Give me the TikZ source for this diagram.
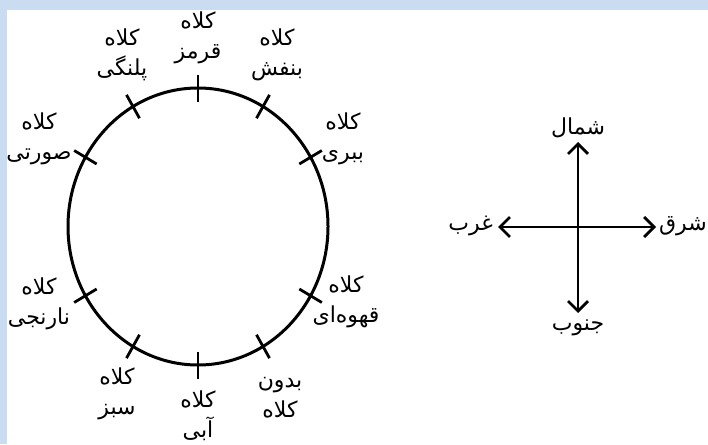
\documentclass[tikz,border=0pt]{standalone}
\usepackage{fontspec}
\newfontfamily\arabicfont[Script=Arabic]{DejaVu Sans}
\TeXXeTstate=1
\usetikzlibrary{arrows.meta,calc}
\definecolor{frameblue}{HTML}{C9DCF2}
\tikzset{
  lbl/.style={font=\arabicfont\fontsize{22}{30}\selectfont, align=center, inner sep=0pt},
  tick/.style={line width=2.8pt},
  ring/.style={line width=3pt},
  comp/.style={line width=2.8pt, {Straight Barb[length=10pt,width=20pt,line width=2.8pt]}-{Straight Barb[length=10pt,width=20pt,line width=2.8pt]}}
}
\newcommand{\rtl}[1]{\beginR #1\endR}
\begin{document}
\begin{tikzpicture}[x=1pt,y=-1pt]
\useasboundingbox (0,0) rectangle (708,444);
\fill[frameblue] (0,0) rectangle (708,444);
\fill[white] (7,10) rectangle (708,444);
% ring
\coordinate (c) at (198,226.5);
\draw[ring] (c) ellipse [x radius=130, y radius=138.5];
\foreach \a/\n in {90/t1,60/t2,30/t3,-30/t4,-60/t5,-90/t6,-120/t7,-150/t8,150/t9,120/t10}{
  \coordinate (\n in) at ($(c)+({117*cos(\a)},{-125*sin(\a)})$);
  \coordinate (\n out) at ($(c)+({143*cos(\a)},{-152*sin(\a)})$);
  \draw[tick] (\n in) -- (\n out);
}
% labels
\node[lbl] (l1) at (198,38) {\rtl{کلاه}\\\rtl{قرمز}};
\node[lbl] (l2) at (277,55) {\rtl{کلاه}\\\rtl{بنفش}};
\node[lbl] (l3) at (343,139) {\rtl{کلاه}\\\rtl{ببری}};
\node[lbl] (l4) at (346,302) {\rtl{کلاه}\\\rtl{قهوه‌ای}};
\node[lbl] (l5) at (280,398) {\rtl{بدون}\\\rtl{کلاه}};
\node[lbl] (l6) at (198,416) {\rtl{کلاه}\\\rtl{آبی}};
\node[lbl] (l7) at (117,394) {\rtl{کلاه}\\\rtl{سبز}};
\node[lbl] (l8) at (39,304) {\rtl{کلاه}\\\rtl{نارنجی}};
\node[lbl] (l9) at (39,139) {\rtl{کلاه}\\\rtl{صورتی}};
\node[lbl] (l10) at (122,55) {\rtl{کلاه}\\\rtl{پلنگی}};
% compass
\node[lbl] (n) at (578,128) {\rtl{شمال}};
\node[lbl] (s) at (578,328) {\rtl{جنوب}};
\node[lbl, anchor=east] (w) at (493,226) {\rtl{غرب}};
\node[lbl, anchor=east] (e) at (707,226) {\rtl{شرق}};
\coordinate (na) at (578,142);
\coordinate (sa) at (578,313);
\coordinate (wa) at (498,227);
\coordinate (ea) at (656,227);
\draw[comp] (na) -- (sa);
\draw[comp] (wa) -- (ea);
\end{tikzpicture}
\end{document}
